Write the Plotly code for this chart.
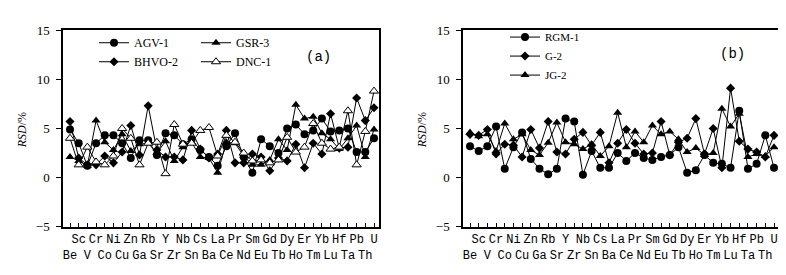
import plotly.graph_objects as go

elements = ["Be","Sc","V","Cr","Co","Ni","Cu","Zn","Ga","Rb","Sr","Y","Zr","Nb","Sn","Cs","Ba",
            "La","Ce","Pr","Nd","Sm","Eu","Gd","Tb","Dy","Ho","Er","Tm","Yb","Lu","Hf","Ta","Pb","Th","U"]

# panel (a)
agv1 = [4.9, 3.5, 1.2, 3.5, 4.3, 4.3, 3.5, 2.0, 3.8, 3.8, 2.3, 4.5, 4.3, 3.4, 3.9, 2.8, 2.1, 1.2,
        3.2, 4.5, 2.1, 0.5, 3.9, 3.2, 2.5, 5.0, 5.4, 4.4, 4.8, 6.0, 4.7, 4.8, 5.0, 2.6, 2.6, 4.0]
bhvo2 = [5.7, 2.0, 1.3, 1.3, 2.2, 1.5, 2.6, 5.3, 2.3, 7.3, 2.8, 2.1, 2.1, 1.8, 4.8, 2.9, 2.0, 2.4,
         4.8, 1.5, 1.5, 2.4, 2.1, 0.7, 2.0, 1.7, 3.4, 1.0, 3.5, 2.4, 6.5, 3.0, 3.1, 8.1, 5.8, 7.1]
gsr3 = [2.1, 1.7, 1.2, 5.8, 3.6, 2.8, 4.4, 2.7, 3.4, 3.5, 2.5, 3.7, 1.7, 3.1, 3.6, 2.1, 2.0, 0.5,
        3.6, 3.5, 2.2, 1.3, 1.3, 1.8, 3.9, 2.8, 7.4, 6.0, 6.2, 4.5, 3.9, 2.9, 4.0, 5.3, 2.1, 4.9]
dnc1 = [4.0, 1.3, 3.1, 1.6, 1.3, 2.2, 5.0, 4.0, 1.3, 3.5, 3.6, 0.4, 5.4, 3.4, 3.5, 4.8, 5.1, 2.2,
        4.3, 3.6, 2.5, 1.7, 1.8, 1.5, 1.8, 4.1, 2.6, 3.1, 5.5, 3.5, 2.9, 3.1, 6.8, 1.3, 4.7, 8.8]

# panel (b)
rgm1 = [3.2, 2.7, 3.2, 5.2, 0.9, 3.1, 4.6, 1.9, 0.9, 0.35, 0.9, 6.0, 5.7, 0.3, 2.7, 1.0, 1.0, 2.5,
        1.7, 2.5, 2.0, 1.8, 2.1, 2.3, 3.1, 0.5, 0.75, 2.3, 1.5, 1.4, 1.0, 6.8, 0.9, 1.4, 4.3, 1.0]
g2 = [4.4, 4.3, 4.9, 2.4, 3.4, 3.3, 2.1, 4.9, 3.0, 5.7, 2.6, 2.4, 3.9, 4.6, 3.3, 4.6, 1.5, 3.5,
      4.9, 3.5, 2.4, 2.5, 5.7, 2.3, 3.6, 4.0, 6.0, 2.4, 5.0, 1.0, 9.1, 3.7, 2.9, 2.6, 2.1, 4.3]
jg2 = [4.6, 4.2, 4.4, 2.7, 5.5, 3.9, 4.4, 2.8, 2.3, 3.55, 5.6, 3.6, 3.4, 2.9, 3.4, 2.2, 3.2, 6.6,
       3.1, 4.7, 3.6, 5.3, 4.4, 4.7, 3.9, 2.6, 3.0, 2.3, 2.5, 7.0, 5.2, 6.5, 2.1, 2.4, 2.2, 3.1]

y_ticks = [-5, 0, 5, 10, 15]

W, H = 786, 275
SERIF = "Liberation Serif"
MONO = "Liberation Mono"

xpos = list(range(len(elements)))
ticktext = [e if i % 2 == 1 else "<br>" + e for i, e in enumerate(elements)]

def px_x(p):
    return p / W

def px_y(p):
    return 1 - p / H

fig = go.Figure()

marker_styles = {
    "circle": dict(symbol="circle", size=8, color="black"),
    "diamond": dict(symbol="diamond", size=7, color="black"),
    "tri": dict(symbol="triangle-up", size=8, color="black"),
    "otri": dict(symbol="triangle-up", size=8, color="white", line=dict(color="black", width=1)),
}

def add(name, vals, style, xa, ya, legend):
    fig.add_trace(go.Scatter(
        x=xpos, y=vals, name=name, mode="lines+markers",
        line=dict(color="black", width=1),
        marker=marker_styles[style],
        xaxis=xa, yaxis=ya, legend=legend,
    ))

add("AGV-1", agv1, "circle", "x", "y", "legend")
add("BHVO-2", bhvo2, "diamond", "x", "y", "legend")
add("GSR-3", gsr3, "tri", "x", "y", "legend3")
add("DNC-1", dnc1, "otri", "x", "y", "legend3")
add("RGM-1", rgm1, "circle", "x2", "y2", "legend2")
add("G-2", g2, "diamond", "x2", "y2", "legend2")
add("JG-2", jg2, "tri", "x2", "y2", "legend2")

xcommon = dict(
    range=[-0.806, 35.576], tickmode="array", tickvals=xpos, ticktext=ticktext,
    ticks="inside", ticklen=4, tickwidth=1, tickcolor="black",
    showline=True, linecolor="black", linewidth=1.5, mirror=True,
    showgrid=False, zeroline=False, tickangle=0,
    tickfont=dict(family=MONO, size=12, color="black"),
)
ycommon = dict(
    range=[-5, 15], tickmode="array", tickvals=y_ticks,
    ticks="outside", ticklen=5, tickwidth=1, tickcolor="black",
    showline=True, linecolor="black", linewidth=1.5, mirror=True,
    showgrid=False, zeroline=False, ticklabelstandoff=4,
    tickfont=dict(family=SERIF, size=13, color="black"),
)
ydom = [px_y(224), px_y(16)]

legfont = dict(family=SERIF, size=12, color="black")
legcommon = dict(bgcolor="rgba(0,0,0,0)", borderwidth=0, xanchor="left", yanchor="top",
                 itemwidth=30, orientation="v")

fig.update_layout(
    width=W, height=H,
    margin=dict(l=0, r=0, t=0, b=0),
    paper_bgcolor="white", plot_bgcolor="white",
    xaxis=dict(domain=[px_x(55), px_x(371)], anchor="y", **xcommon),
    yaxis=dict(domain=ydom, anchor="x", **ycommon),
    xaxis2=dict(domain=[px_x(455), px_x(771)], anchor="y2", **xcommon),
    yaxis2=dict(domain=ydom, anchor="x2", **ycommon),
    legend=dict(x=px_x(86), y=px_y(14), font=legfont, **legcommon),
    legend3=dict(x=px_x(188), y=px_y(14), font=legfont, **legcommon),
    legend2=dict(x=px_x(497), y=px_y(8), font=dict(family=SERIF, size=11, color="black"), **legcommon),
    showlegend=True,
)

annots = [
    dict(text="<i>RSD</i>/%", x=px_x(14), y=px_y(122), textangle=-90, font=dict(family=SERIF, size=12, color="black")),
    dict(text="<i>RSD</i>/%", x=px_x(414), y=px_y(122), textangle=-90, font=dict(family=SERIF, size=12, color="black")),
    dict(text="(a)", x=px_x(310), y=px_y(44), font=dict(family=MONO, size=14, color="black")),
    dict(text="(b)", x=px_x(724), y=px_y(41), font=dict(family=MONO, size=14, color="black")),
]
for a in annots:
    fig.add_annotation(xref="paper", yref="paper", showarrow=False,
                       xanchor="center", yanchor="middle", **a)

fig.write_html("out.html")
